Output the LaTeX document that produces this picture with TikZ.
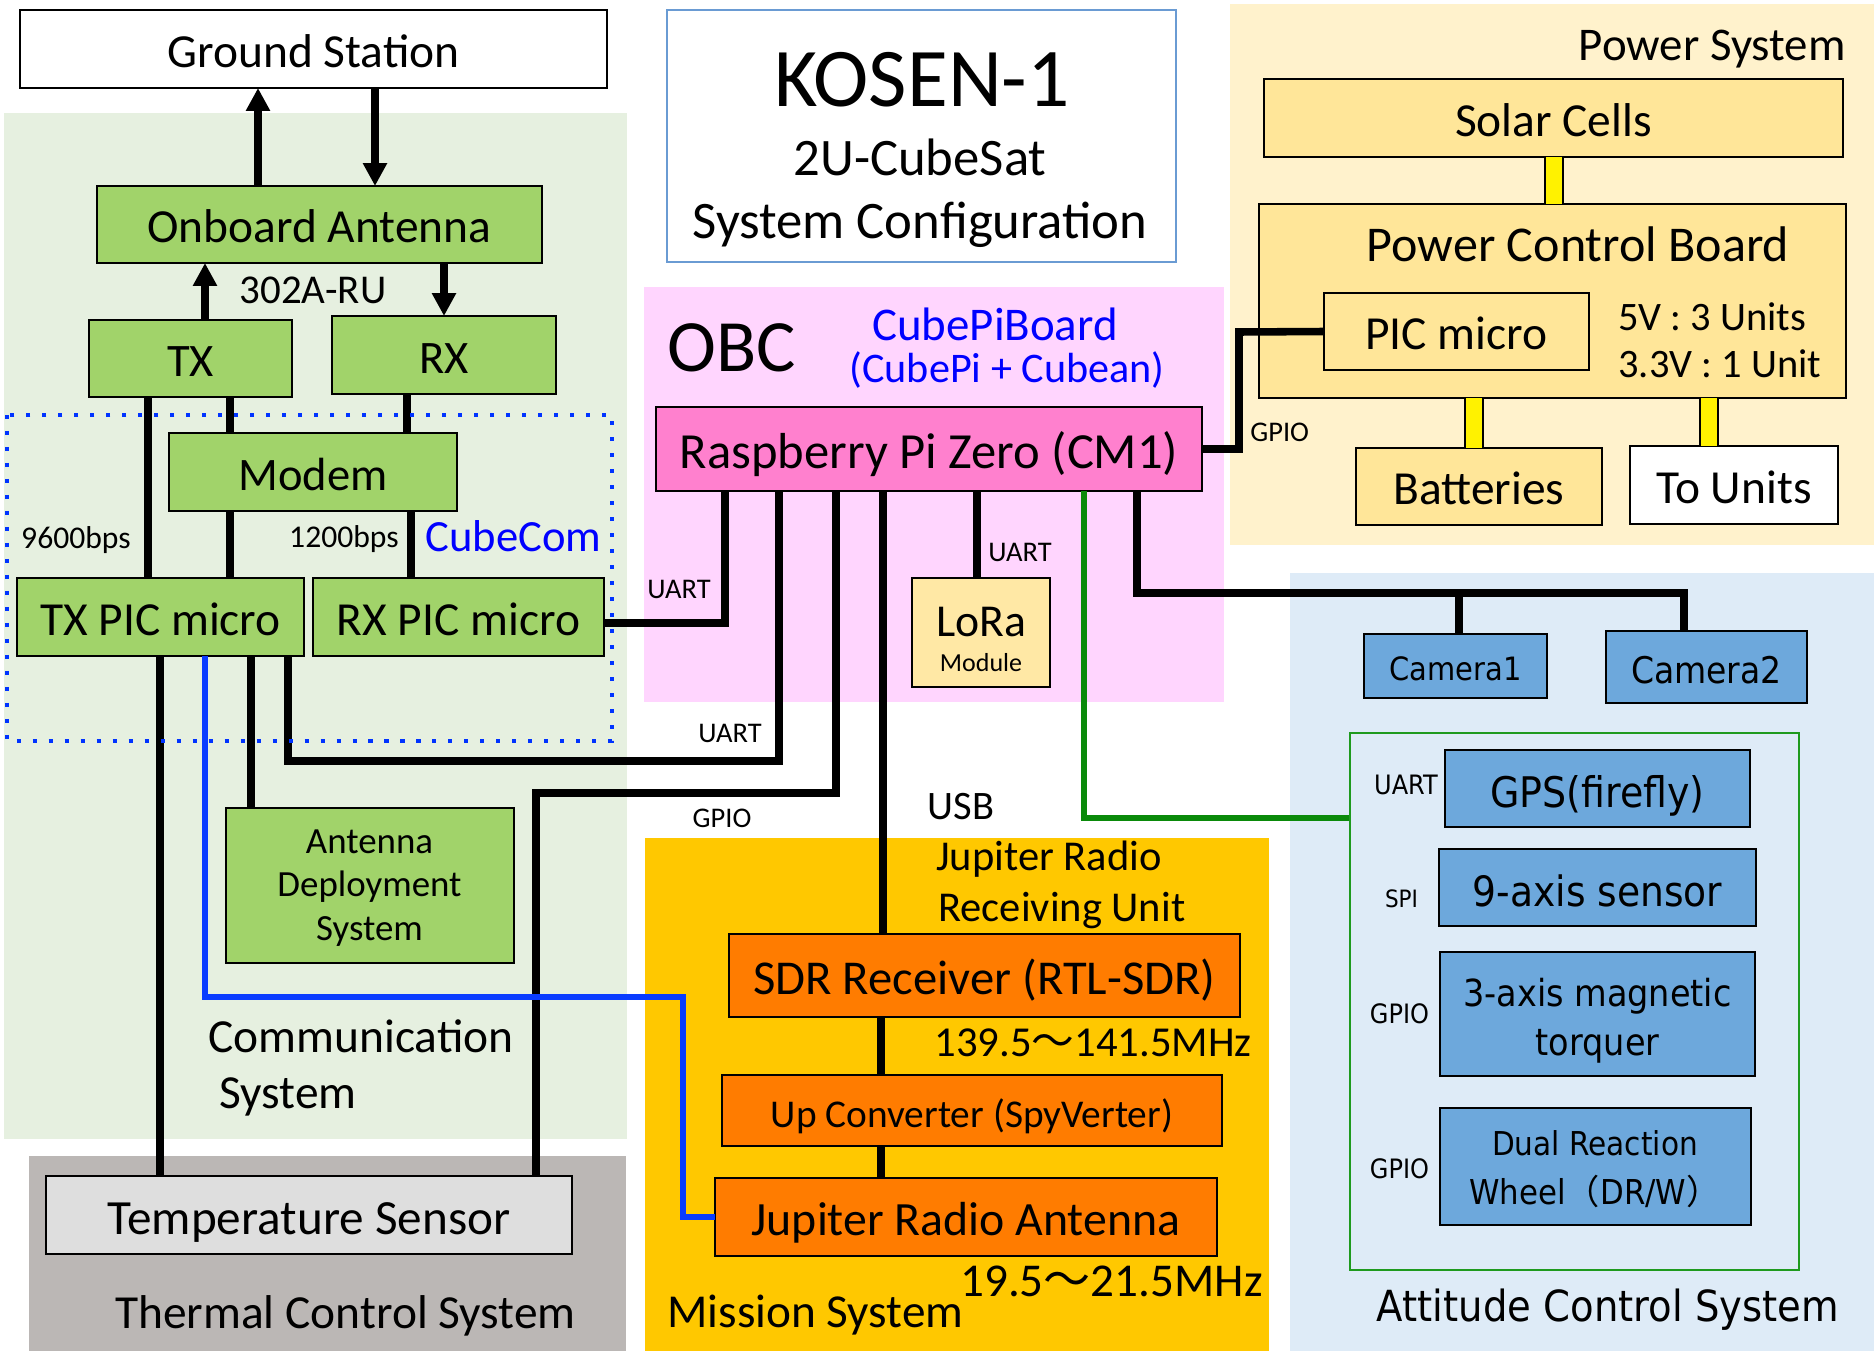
\documentclass[tikz,border=0pt]{standalone}
\usepackage{fontspec}
\setmainfont{Carlito}
\newfontfamily\dvs[FakeStretch=0.9]{DejaVu Sans}
\newfontfamily\cjk{Noto Sans CJK JP}
\usetikzlibrary{arrows.meta}
\definecolor{commbg}{HTML}{E6F0E0}
\definecolor{grnbox}{HTML}{A1D36A}
\definecolor{thermbg}{HTML}{BBB7B5}
\definecolor{tempfill}{HTML}{DEDEDE}
\definecolor{obcbg}{HTML}{FFD5FE}
\definecolor{rpifill}{HTML}{FF80CE}
\definecolor{lorafill}{HTML}{FFE8A5}
\definecolor{missbg}{HTML}{FFC800}
\definecolor{orangebox}{HTML}{FF7C00}
\definecolor{powbg}{HTML}{FFF2CC}
\definecolor{powbox}{HTML}{FFE699}
\definecolor{acsbg}{HTML}{DEEBF7}
\definecolor{acsbox}{HTML}{6DA8DC}
\definecolor{acsgreen}{HTML}{1E9A1E}
\definecolor{titleblue}{HTML}{6A9BD3}
\definecolor{bluewire}{HTML}{0A3CFF}
\definecolor{greenwire}{HTML}{0A8A0A}
\definecolor{cubeblue}{HTML}{0033FF}
\definecolor{textblue}{HTML}{0000FF}
\newcommand\fs[2]{\fontsize{#1}{#2}\selectfont}
% box node: name, x1, y1, x2, y2, options, text
\newcommand\bx[7]{\node[#6, minimum width={(#4-#2)*0.02cm}, minimum height={(#5-#3)*0.02cm}] (#1) at ({(#2+#4)/2},{(#3+#5)/2}) {#7};}
\begin{document}
\begin{tikzpicture}[x=0.02cm,y=-0.02cm,
  box/.style={draw=black, line width=1.4pt, inner sep=0pt, outer sep=0pt, align=center},
  gbox/.style={box, fill=grnbox},
  obox/.style={box, fill=orangebox},
  pbox/.style={box, fill=powbox},
  abox/.style={box, fill=acsbox},
  one/.style={text height=#1, text depth=0pt},
  txt/.style={inner sep=0pt, anchor=base},
  txtw/.style={inner sep=0pt, anchor=base west},
  conn/.style={line width=4.3pt, draw=black},
  arr/.style={conn, -{Triangle[length=13pt,width=13pt]}},
  ycon/.style={draw=black, line width=1.1pt, double=yellow, double distance=9pt},
  bwire/.style={line width=3.1pt, draw=bluewire},
  gwire/.style={line width=2.9pt, draw=greenwire},
  cubecom/.style={draw=cubeblue, line width=1.9pt, dash pattern=on 2.3pt off 6.8pt}]
\useasboundingbox (0,0) rectangle (1874,1355);
\fill[white] (0,0) rectangle (1874,1355);
% backgrounds
\fill[commbg] (4,113) rectangle (627,1139);
\fill[thermbg] (29,1156) rectangle (626,1351);
\fill[obcbg] (644,287) rectangle (1224,702);
\fill[missbg] (645,838) rectangle (1269,1351);
\fill[powbg] (1230,4) rectangle (1874,545);
\fill[acsbg] (1290,573) rectangle (1874,1351);

% title
\bx{title}{667}{10}{1176}{262}{draw=titleblue, line width=0.9pt, inner sep=0pt}{}
\node[txt, font=\fs{47.5}{56}] (t1) at (922,107) {KOSEN-1};
\node[txt, font=\fs{30}{36}] (t2) at (920,175) {2U-CubeSat};
\node[txt, font=\fs{30}{36}] (t3) at (920,238) {System Configuration};

% communication system
\bx{gs}{20}{10}{607}{88}{box, fill=white, font=\fs{27}{32}, one=21pt}{Ground Station}
\bx{ant}{97}{186}{542}{263}{gbox, font=\fs{27}{32}, one=21pt}{Onboard Antenna}
\node[txt, font=\fs{23.3}{28}] (l302) at (313,303) {302A-RU};
\bx{tx}{89}{320}{292}{397}{gbox, font=\fs{26.5}{32}, one=20.7pt}{TX}
\bx{rx}{332}{316}{556}{394}{gbox, font=\fs{26.5}{32}, one=20.7pt}{RX}
\bx{modem}{169}{433}{457}{511}{gbox, font=\fs{26.5}{32}, one=20.7pt}{Modem}
\bx{txpic}{17}{578}{304}{656}{gbox, font=\fs{27}{32}, one=21pt}{TX PIC micro}
\bx{rxpic}{313}{578}{604}{656}{gbox, font=\fs{27}{32}, one=21pt}{RX PIC micro}
\node[txt, font=\fs{18}{22}] (l9600) at (76,548) {9600bps};
\node[txt, font=\fs{18}{22}] (l1200) at (344,547) {1200bps};
\node[txt, font=\fs{25.4}{30}, text=textblue] (lcc) at (513.5,551) {CubeCom};
\bx{ads}{226}{808}{514}{963}{gbox}{}
\node[txt, font=\fs{21}{25}] (ads1) at (369.5,853) {Antenna};
\node[txt, font=\fs{21}{25}] (ads2) at (369.5,896.5) {Deployment};
\node[txt, font=\fs{21}{25}] (ads3) at (369.5,940) {System};
\node[txtw, font=\fs{27}{32}] (lcomm1) at (208,1052) {Communication};
\node[txtw, font=\fs{27}{32}] (lcomm2) at (219,1108) {System};
\bx{temp}{46}{1176}{572}{1254}{box, fill=tempfill, font=\fs{28}{33}, one=21.8pt}{Temperature Sensor}
\node[txt, font=\fs{27}{32}] (lthermal) at (345.5,1328) {Thermal Control System};

% OBC
\node[txtw, font=\fs{42}{50}] (lobc) at (667,371) {OBC};
\node[txt, font=\fs{26.7}{32}, text=textblue] (lcpb) at (995,340) {CubePiBoard};
\node[txt, font=\fs{24}{29}, text=textblue] (lcpb2) at (1007,382) {(CubePi + Cubean)};
\bx{rpi}{656}{407}{1202}{491}{box, fill=rpifill, font=\fs{28.8}{34}, one=22.5pt}{Raspberry Pi Zero (CM1)}
\bx{lora}{912}{578}{1050}{687}{box, fill=lorafill}{}
\node[txt, font=\fs{26}{31}] (lora1) at (981,636) {LoRa};
\node[txt, font=\fs{14.8}{18}] (lora2) at (981,671) {Module};
\node[txt, font=\fs{16.2}{19}] (luart1) at (679,598) {UART};
\node[txt, font=\fs{16.2}{19}] (luart2) at (730,742) {UART};
\node[txt, font=\fs{16.2}{19}] (lgpio1) at (722,827) {GPIO};
\node[txt, font=\fs{23}{28}] (lusb) at (961,819) {USB};
\node[txt, font=\fs{16.2}{19}] (luart3) at (1020,561) {UART};

% mission
\node[txtw, font=\fs{24.2}{29}] (ljr1) at (936,870) {Jupiter Radio};
\node[txtw, font=\fs{24.2}{29}] (ljr2) at (938,921) {Receiving Unit};
\bx{sdr}{729}{934}{1240}{1017}{obox, font=\fs{27.7}{33}, one=21.6pt}{SDR Receiver (RTL-SDR)}
\node[txtw, font=\fs{24.3}{29}] (lf1) at (934,1056) {139.5{\cjk 〜}141.5MHz};
\bx{upc}{722}{1075}{1222}{1146}{obox, font=\fs{22.4}{27}, one=18.8pt}{Up Converter (SpyVerter)}
\bx{jant}{715}{1178}{1217}{1256}{obox, font=\fs{27.2}{33}, one=21.2pt}{Jupiter Radio Antenna}
\node[txtw, font=\fs{26.8}{32}] (lf2) at (960,1296) {19.5{\cjk 〜}21.5MHz};
\node[txtw, font=\fs{26.9}{32}] (lmiss) at (667,1327) {Mission System};

% power
\node[inner sep=0pt, anchor=base east, font=\fs{26.7}{32}] (lpow) at (1846,61) {Power System};
\bx{solar}{1264}{79}{1843}{157}{pbox, font=\fs{27}{32}, one=21pt}{Solar Cells}
\bx{pcb}{1259}{204}{1846}{398}{pbox}{}
\node[txt, font=\fs{28.5}{34}] (lpcb) at (1578,261) {Power Control Board};
\bx{picm}{1324}{293}{1589}{370}{pbox, font=\fs{27}{32}, one=21pt}{PIC micro}
\node[txtw, font=\fs{23}{28}] (lv1) at (1618,330) {5V : 3 Units};
\node[txtw, font=\fs{23}{28}] (lv2) at (1618,377) {3.3V : 1 Unit};
\node[txtw, font=\fs{16.2}{19}] (lgpio2) at (1250,441) {GPIO};
\bx{bat}{1356}{448}{1602}{525}{pbox, font=\fs{27}{32}, one=21pt}{Batteries}
\bx{tou}{1630}{446}{1838}{524}{box, fill=white, font=\fs{27}{32}, one=21pt}{To Units}

% attitude control
\bx{cam1}{1364}{634}{1547}{698}{abox, font=\dvs\fs{18.3}{22}, one=16.5pt}{Camera1}
\bx{cam2}{1606}{631}{1807}{703}{abox, font=\dvs\fs{20.9}{25}, one=18.8pt}{Camera2}
\bx{acsin}{1350}{733}{1799}{1270}{draw=acsgreen, line width=0.9pt, inner sep=0pt}{}
\bx{gps}{1445}{750}{1750}{827}{abox, font=\dvs\fs{24}{29}, one=21.6pt}{GPS(firefly)}
\bx{nine}{1439}{849}{1756}{926}{abox, font=\dvs\fs{23.8}{29}, one=21.4pt}{9-axis sensor}
\bx{mtq}{1440}{952}{1755}{1076}{abox}{}
\node[txt, font=\dvs\fs{21.2}{26}] (mtq1) at (1597.5,1006) {3-axis magnetic};
\node[txt, font=\dvs\fs{21.2}{26}] (mtq2) at (1597.5,1055) {torquer};
\bx{drw}{1440}{1108}{1751}{1225}{abox}{}
\node[txt, font=\dvs\fs{18.7}{23}] (drw1) at (1595,1155) {Dual Reaction};
\node[txt, font=\dvs\fs{19.5}{23}] (drw2) at (1595,1204) {Wheel{\cjk （}DR/W{\cjk ）}};
\node[txt, font=\dvs\fs{15.2}{18}] (la1) at (1406,794) {UART};
\node[txt, font=\dvs\fs{13.6}{16}] (la2) at (1401.5,907) {SPI};
\node[txt, font=\dvs\fs{15.2}{18}] (la3) at (1399.5,1023) {GPIO};
\node[txt, font=\dvs\fs{15.2}{18}] (la4) at (1399.5,1178) {GPIO};
\node[txt, font=\dvs\fs{24.4}{29}] (lacs) at (1608,1321) {Attitude Control System};

% connectors
\coordinate (camj) at (1459,593);
\draw[arr] (ant.north -| 258,0) -- (gs.south -| 258,0);
\draw[arr] (gs.south -| 375,0) -- (ant.north -| 375,0);
\draw[arr] (tx.north -| 205,0) -- (ant.south -| 205,0);
\draw[arr] (ant.south -| 444,0) -- (rx.north -| 444,0);
\draw[conn] (tx.south -| 148,0) -- (txpic.north -| 148,0);
\draw[conn] (tx.south -| 230,0) -- (modem.north -| 230,0);
\draw[conn] (modem.south -| 230,0) -- (txpic.north -| 230,0);
\draw[conn] (rx.south -| 407,0) -- (modem.north -| 407,0);
\draw[conn] (modem.south -| 411,0) -- (rxpic.north -| 411,0);
\draw[conn] (txpic.south -| 160,0) -- (temp.north -| 160,0);
\draw[conn] (txpic.south -| 251,0) -- (ads.north -| 251,0);
\draw[conn] (txpic.south -| 288,0) |- (779,761) -- (rpi.south -| 779,0);
\draw[conn] (rxpic.east |- 0,623) -| (rpi.south -| 725,0);
\draw[conn] (temp.north -| 536,0) |- (836,793) -- (rpi.south -| 836,0);
\draw[conn] (rpi.south -| 883,0) -- (sdr.north -| 883,0);
\draw[conn] (rpi.south -| 977,0) -- (lora.north -| 977,0);
\draw[conn] (rpi.south -| 1137,0) |- (1684,593) -- (cam2.north -| 1684,0);
\draw[conn] (camj) -- (cam1.north -| camj);
\draw[conn] (rpi.east) -| (1239,332) -- (picm.west);
\draw[conn] (sdr.south -| 881,0) -- (upc.north -| 881,0);
\draw[conn] (upc.south -| 881,0) -- (jant.north -| 881,0);
\draw[gwire] (rpi.south -| 1084,0) |- (acsin.west |- 0,818);
\draw[bwire] (txpic.south -| 205,0) |- (683,997) |- (jant.west);
\draw[ycon] (solar.south -| 1554,0) -- (pcb.north -| 1554,0);
\draw[ycon] (pcb.south -| 1474,0) -- (bat.north -| 1474,0);
\draw[ycon] (pcb.south -| 1709,0) -- (tou.north -| 1709,0);

% CubeCom dotted frame
\draw[cubecom] (7,415) rectangle (612,741);
\end{tikzpicture}
\end{document}
